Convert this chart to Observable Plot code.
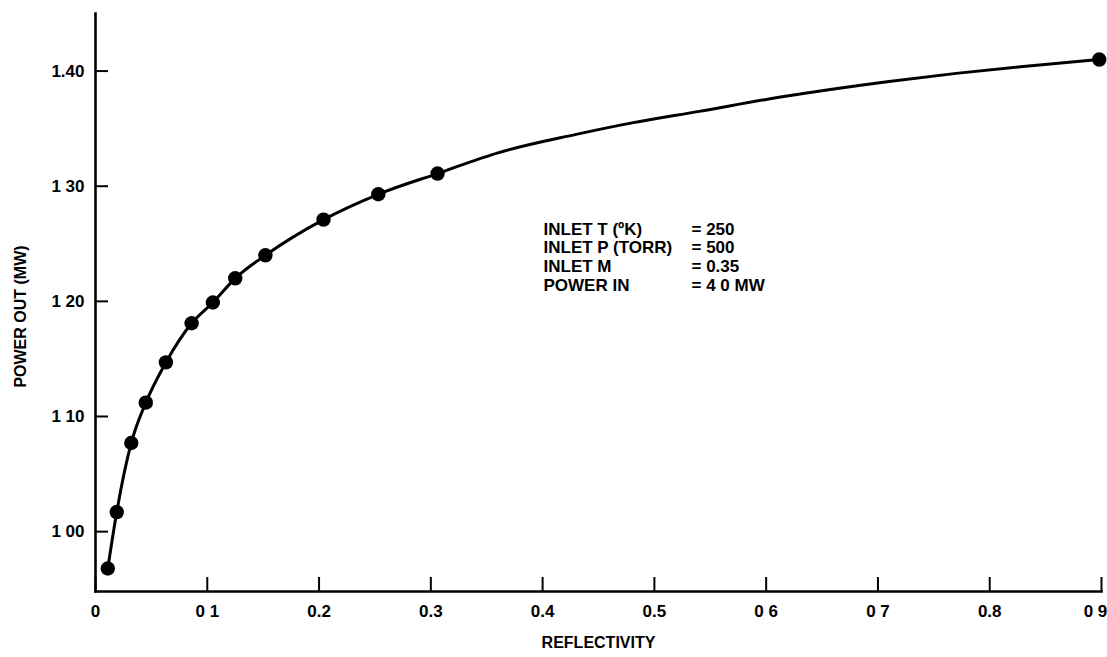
<!DOCTYPE html>
<html>
<head>
<meta charset="utf-8">
<script src="https://cdn.jsdelivr.net/npm/d3@7"></script>
<script src="https://cdn.jsdelivr.net/npm/@observablehq/plot@0.6"></script>
<style>
  html, body { margin: 0; padding: 0; background: #fff; }
  #chart { width: 1107px; height: 657px; }
</style>
</head>
<body>
<div id="chart"></div>
<script>
// Measured points (markers)
const reflectivity = [0.011, 0.019, 0.032, 0.045, 0.063, 0.086, 0.105, 0.125, 0.152, 0.204, 0.253, 0.306, 0.898];
const powerOut     = [0.968, 1.017, 1.077, 1.112, 1.147, 1.181, 1.199, 1.220, 1.240, 1.271, 1.293, 1.311, 1.410];

const traceReflectivity = [0.36, 0.43, 0.48, 0.54, 0.61, 0.71, 0.77, 0.83];
const tracePower        = [1.329, 1.345, 1.355, 1.365, 1.377, 1.391, 1.398, 1.404];

// Axis ticks and labels
const xTicks = [0, 0.1, 0.2, 0.3, 0.4, 0.5, 0.6, 0.7, 0.8, 0.9];
const xTickLabels = ["0", "0 1", "0.2", "0.3", "0.4", "0.5", "0 6", "0 7", "0.8", "0 9"];
const yTicks = [1.0, 1.1, 1.2, 1.3, 1.4];
const yTickLabels = ["1 00", "1 10", "1 20", "1 30", "1.40"];

// Annotation
const noteLabels = ["INLET T (\u00BAK)", "INLET P (TORR)", "INLET M", "POWER IN"];
const noteValues = ["= 250", "= 500", "= 0.35", "= 4 0 MW"];

const xTitle = "REFLECTIVITY";
const yTitle = "POWER OUT (MW)";

const markers = reflectivity.map((x, i) => ({x, y: powerOut[i]}));
const curve = markers
  .concat(traceReflectivity.map((x, i) => ({x, y: tracePower[i]})))
  .sort((a, b) => a.x - b.x);

const W = 1107, H = 657;
const mL = 95, mR = 6, mT = 13, mB = 66;
const plotW = W - mL - mR, plotH = H - mT - mB;

const lastX = xTicks[xTicks.length - 1];
const labelOf = d => xTickLabels[xTicks.indexOf(d)];

const chart = Plot.plot({
  width: W,
  height: H,
  marginLeft: mL,
  marginRight: mR,
  marginTop: mT,
  marginBottom: mB,
  style: {fontFamily: "'Liberation Sans', Arial, sans-serif", fontWeight: "bold", fontSize: "17px", background: "#fff", color: "#000"},
  x: {domain: [0, 0.9], label: null},
  y: {domain: [0.948, 1.45], label: null},
  marks: [
    // axis lines
    Plot.frame({anchor: "left", stroke: "#000", strokeWidth: 2.6}),
    Plot.frame({anchor: "bottom", stroke: "#000", strokeWidth: 2.6}),
    // inward tick marks
    Plot.ruleX(xTicks, {x: d => d, insetTop: plotH - 14, stroke: "#000", strokeWidth: 2}),
    Plot.ruleY(yTicks, {y: d => d, insetRight: plotW - 13, stroke: "#000", strokeWidth: 2}),
    // tick labels
    Plot.axisX({ticks: xTicks.slice(0, -1), tickSize: 0, tickPadding: 13, tickFormat: labelOf, fontSize: 17, label: null}),
    Plot.axisX({ticks: [lastX], tickSize: 0, tickPadding: 13, tickFormat: labelOf, fontSize: 17, dx: -6, label: null}),
    Plot.axisY({ticks: yTicks, tickSize: 0, tickPadding: 11, tickFormat: (d, i) => yTickLabels[i], fontSize: 17, label: null}),
    // axis titles
    Plot.text([xTitle], {frameAnchor: "bottom", dy: 56, fontSize: 16, fontWeight: "bold"}),
    Plot.text([yTitle], {frameAnchor: "left", textAnchor: "middle", rotate: -90, dx: -75, dy: 14, fontSize: 16, fontWeight: "bold"}),
    // curve and markers
    Plot.line(curve, {x: "x", y: "y", curve: "monotone-x", stroke: "#000", strokeWidth: 3}),
    Plot.dot(markers, {x: "x", y: "y", r: 7.2, fill: "#000", stroke: "none"}),
    // annotation
    Plot.text([noteLabels.join("\n")], {frameAnchor: "top-left", dx: 448, dy: 208, textAnchor: "start", lineAnchor: "top", lineHeight: 1.1, fontSize: 17, fontWeight: "bold"}),
    Plot.text([noteValues.join("\n")], {frameAnchor: "top-left", dx: 596, dy: 208, textAnchor: "start", lineAnchor: "top", lineHeight: 1.1, fontSize: 17, fontWeight: "bold"})
  ]
});

document.getElementById("chart").appendChild(chart);
</script>
</body>
</html>
